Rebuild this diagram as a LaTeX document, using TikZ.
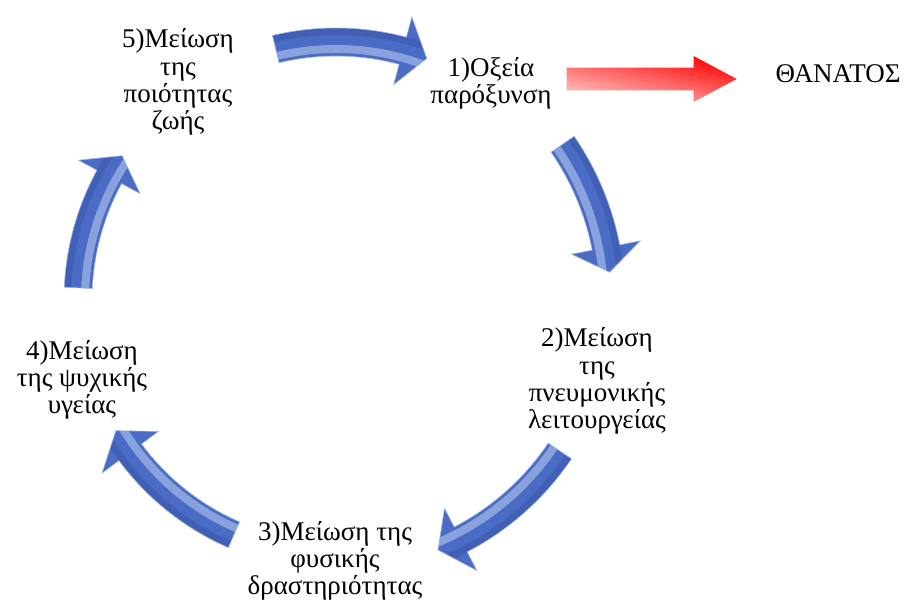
\documentclass[tikz,border=0pt]{standalone}
\usepackage{fontspec}
\setmainfont{Liberation Serif}
\usetikzlibrary{shapes.arrows}
\definecolor{arrowblue}{RGB}{74,108,196}
\definecolor{arrowlight}{RGB}{214,228,252}
\definecolor{arrowdark}{RGB}{52,80,160}

\begin{document}
\begin{tikzpicture}[x=0.5pt,y=0.5pt,
  txt/.style={align=center,inner sep=0pt,font=\fontsize{13.5}{13.6}\selectfont},
  bluearrow/.style={fill=arrowblue,draw=arrowlight!60!arrowblue,line width=0.3pt},
  redarrow/.style={single arrow,inner sep=0pt,minimum height=85pt,text height=5.5pt,text depth=5.5pt,
    single arrow head extend=5.75pt,single arrow tip angle=56,
    top color=red,bottom color=red!22,shading angle=-12}]
\useasboundingbox (0,0) rectangle (907,-603);
\coordinate (s_c) at (336,-300);
\node[txt](s_1) at (491,-83) {1)Οξεία\\παρόξυνση};
\node[txt](s_2) at (597,-381) {2)Μείωση\\της\\πνευμονικής\\λειτουργείας};
\node[txt](s_3) at (335,-561) {3)Μείωση της\\φυσικής\\δραστηριότητας};
\node[txt](s_4) at (82,-380) {4)Μείωση\\της ψυχικής\\υγείας};
\node[txt](s_5) at (178,-82) {5)Μείωση\\της\\ποιότητας\\ζωής};
\node[txt](s_d) at (838,-74) {ΘΑΝΑΤΟΣ};
\node[redarrow](r_d) at (641,-79) {};
% cycle arrows: radius/tail/head base/tip (angles round s_c)
\foreach \r/\a/\b/\t in {258/103.5/75/69.4,275/34.5/11/5.8,270/-34/-62.5/-67.8,
    256/246.5/216.5/210.7,258/177.3/151.5/146}{
  \path[bluearrow,shift={(s_c)},
    path picture={\fill[arrowdark,opacity=.4,even odd rule] (s_c) circle[radius=\r+14] (s_c) circle[radius=\r+7];
      \fill[arrowlight,opacity=.45,even odd rule] (s_c) circle[radius=\r-3] (s_c) circle[radius=\r-11];}]
    ({\a}:{\r+14}) arc[start angle=\a,end angle=\b,radius={\r+14}] -- ({\b}:{\r+35})
    -- ({\t}:{\r}) -- ({\b}:{\r-35}) -- ({\b}:{\r-14})
    arc[start angle=\b,end angle=\a,radius={\r-14}] -- cycle;
}
\end{tikzpicture}
\end{document}
